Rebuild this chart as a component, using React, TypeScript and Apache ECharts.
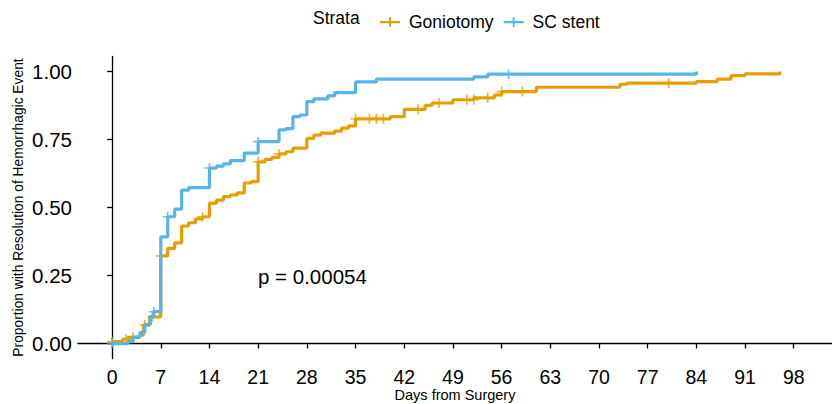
import React, { useEffect, useRef } from "react";
import * as echarts from "echarts";

// ---- Data ----
const xTicks = [0, 7, 14, 21, 28, 35, 42, 49, 56, 63, 70, 77, 84, 91, 98];
const yTicks = [0, 0.25, 0.5, 0.75, 1.0];

// SC stent: event times (days) and cumulative proportion after each step
const scTimes = [0, 2.3, 3, 4, 4.7, 5.5, 6, 7, 8, 9, 10, 11, 14, 15, 16, 17, 19, 21, 24, 25, 26, 27, 28, 29, 31, 32, 35, 38, 52, 54, 84];
const scValues = [0, 0.007, 0.024, 0.04, 0.07, 0.1, 0.117, 0.392, 0.466, 0.494, 0.564, 0.573, 0.645, 0.652, 0.66, 0.672, 0.7, 0.742, 0.785, 0.79, 0.834, 0.84, 0.889, 0.899, 0.91, 0.922, 0.962, 0.972, 0.98, 0.99, 1.0];
const scCensorTimes = [0, 6, 8, 14, 21, 57];
const scCensorValues = [0, 0.117, 0.466, 0.645, 0.742, 0.99];

// Goniotomy
const gonTimes = [0, 1.5, 2.3, 4, 4.5, 5.4, 7, 8, 9, 10, 11, 12, 13, 14, 15, 16, 17, 18, 19, 20, 21, 22, 23, 24, 25, 26, 28, 29, 30, 32, 33, 34, 35, 40, 42, 45, 46, 49, 52, 55, 56, 61, 73, 74, 84, 87, 89, 91, 96];
const gonValues = [0.007, 0.015, 0.023, 0.031, 0.068, 0.098, 0.322, 0.35, 0.37, 0.432, 0.444, 0.458, 0.466, 0.516, 0.527, 0.54, 0.546, 0.554, 0.59, 0.595, 0.668, 0.677, 0.684, 0.697, 0.705, 0.718, 0.754, 0.766, 0.773, 0.781, 0.792, 0.8, 0.826, 0.834, 0.861, 0.875, 0.884, 0.896, 0.903, 0.914, 0.926, 0.942, 0.953, 0.957, 0.963, 0.972, 0.985, 0.991, 1.0];
const gonCensorTimes = [0, 2, 3, 4.7, 5.8, 7, 13, 21, 24, 35, 37, 38, 39, 44, 47, 51, 52, 54, 56, 59, 80];
const gonCensorValues = [0.007, 0.015, 0.023, 0.068, 0.098, 0.322, 0.466, 0.668, 0.697, 0.826, 0.826, 0.826, 0.826, 0.861, 0.884, 0.896, 0.896, 0.903, 0.926, 0.926, 0.957];

const seriesNames = ["Goniotomy", "SC stent"];
const colors = ["#E69F00", "#56B4E9"];
const pText = "p = 0.00054";

const zip = (a: number[], b: number[]) => a.map((v, i) => [v, b[i]]);

const PLUS = "path://M0,4.2 L10,4.2 L10,5.8 L0,5.8 Z M4.2,0 L5.8,0 L5.8,10 L4.2,10 Z";
const LEGEND_ICON = "path://M0,4 L20,4 L20,6.2 L0,6.2 Z M9.1,0 L10.9,0 L10.9,10 L9.1,10 Z";
const FONT = "'Liberation Sans', Arial, Helvetica, sans-serif";

export default function App() {
  const ref = useRef<HTMLDivElement>(null);
  useEffect(() => {
    if (!ref.current) return;
    const chart = echarts.init(ref.current, undefined, { renderer: "svg" });
    chart.setOption({
      animation: false,
      backgroundColor: "#ffffff",
      textStyle: { fontFamily: FONT },
      grid: { left: 78, right: 0, top: 56.5, bottom: 45.5, outerBoundsMode: "none", containLabel: false },
      legend: {
        left: 375,
        top: 8,
        itemWidth: 20,
        itemHeight: 10,
        itemGap: 10,
        selectedMode: false,
        textStyle: { fontSize: 17.5, color: "#000", fontFamily: FONT, padding: [0, 0, 0, 4] },
        data: seriesNames.map((n) => ({ name: n, icon: LEGEND_ICON })),
      },
      xAxis: {
        type: "value",
        min: -4.9,
        max: 103.5,
        name: "Days from Surgery",
        nameLocation: "middle",
        nameGap: 29,
        nameMoveOverlap: false,
        nameTextStyle: { fontSize: 14.5, color: "#000", fontFamily: FONT },
        axisLine: { show: true, lineStyle: { color: "#000", width: 1.3 } },
        axisTick: { show: true, length: 5, customValues: xTicks, lineStyle: { color: "#000", width: 1.3 } },
        axisLabel: { customValues: xTicks, fontSize: 19.5, color: "#000", margin: 8, fontFamily: FONT },
        splitLine: { show: false },
      },
      yAxis: {
        type: "value",
        min: -0.055,
        max: 1.055,
        name: "Proportion with Resolution of Hemorrhagic Event",
        nameLocation: "middle",
        nameGap: 53,
        nameMoveOverlap: false,
        nameTextStyle: { fontSize: 13.8, color: "#000", fontFamily: FONT },
        axisLine: { show: true, lineStyle: { color: "#000", width: 1.3 } },
        axisTick: { show: true, length: 5, customValues: yTicks, lineStyle: { color: "#000", width: 1.3 } },
        axisLabel: {
          customValues: yTicks,
          fontSize: 20.5,
          color: "#000",
          margin: 6,
          fontFamily: FONT,
          formatter: (v: number) => v.toFixed(2),
        },
        splitLine: { show: false },
      },
      graphic: [
        {
          type: "text",
          left: 313,
          top: 9,
          style: { text: "Strata", fontSize: 17.5, fill: "#000", fontFamily: FONT },
        },
        {
          type: "text",
          x: 258,
          y: 276,
          style: { text: pText, fontSize: 20.5, fill: "#000", fontFamily: FONT, verticalAlign: "middle", align: "left" },
        },
      ],
      series: [
        {
          name: seriesNames[0],
          type: "line",
          step: "end",
          showSymbol: false,
          color: colors[0],
          lineStyle: { width: 3.2, color: colors[0] },
          data: zip(gonTimes, gonValues),
          z: 2,
        },
        {
          name: seriesNames[0],
          type: "scatter",
          symbol: PLUS,
          symbolSize: 10,
          color: colors[0],
          itemStyle: { color: colors[0] },
          data: zip(gonCensorTimes, gonCensorValues),
          z: 3,
        },
        {
          name: seriesNames[1],
          type: "line",
          step: "end",
          showSymbol: false,
          color: colors[1],
          lineStyle: { width: 3.2, color: colors[1] },
          data: zip(scTimes, scValues),
          z: 4,
        },
        {
          name: seriesNames[1],
          type: "scatter",
          symbol: PLUS,
          symbolSize: 10,
          color: colors[1],
          itemStyle: { color: colors[1] },
          data: zip(scCensorTimes, scCensorValues),
          z: 5,
        },
      ],
    });
    return () => chart.dispose();
  }, []);
  return (
    <div
      ref={ref}
      style={{ position: "fixed", left: 0, top: 0, width: 832, height: 404, background: "#fff" }}
    />
  );
}
